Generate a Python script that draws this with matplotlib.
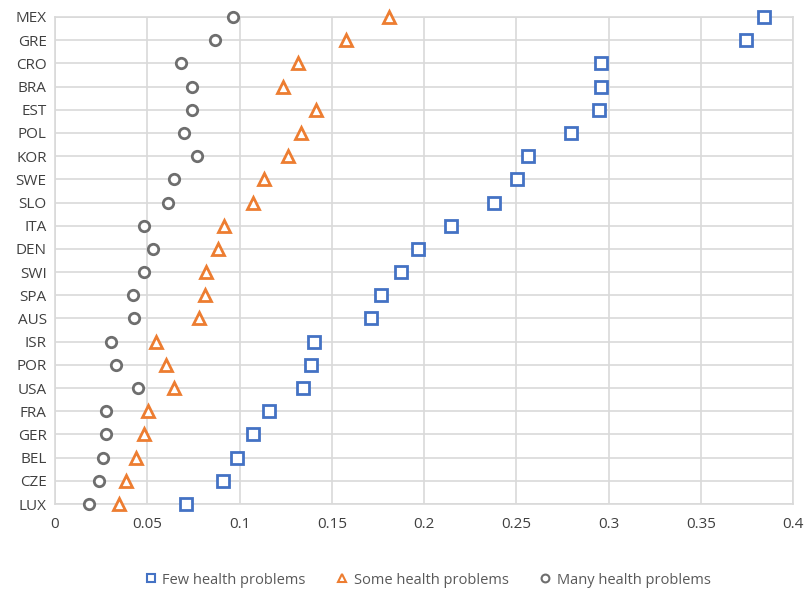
import numpy as np
import matplotlib
matplotlib.use("Agg")
import matplotlib.pyplot as plt

plt.rcParams['font.family'] = ['Open Sans', 'DejaVu Sans']

# countries, bottom to top
countries = ["LUX", "CZE", "BEL", "GER", "FRA", "USA", "POR", "ISR", "AUS", "SPA", "SWI",
             "DEN", "ITA", "SLO", "SWE", "KOR", "POL", "EST", "BRA", "CRO", "GRE", "MEX"]

few = [0.0711, 0.0909, 0.0989, 0.1075, 0.1162, 0.1342, 0.1388, 0.1406, 0.1713, 0.1767, 0.1877,
       0.1965, 0.2146, 0.2379, 0.2505, 0.2561, 0.2796, 0.2950, 0.2957, 0.2959, 0.3744, 0.3843]
some = [0.0349, 0.0386, 0.0438, 0.0485, 0.0503, 0.0647, 0.0602, 0.0548, 0.0783, 0.0812, 0.0819,
        0.0882, 0.0918, 0.1072, 0.1135, 0.1261, 0.1334, 0.1415, 0.1234, 0.1317, 0.1579, 0.1812]
many = [0.0185, 0.0239, 0.0259, 0.0277, 0.0275, 0.0449, 0.0331, 0.0306, 0.0429, 0.0422, 0.0485,
        0.0530, 0.0485, 0.0613, 0.0644, 0.0767, 0.0700, 0.0745, 0.0745, 0.0682, 0.0866, 0.0963]

series = [
    ("Few health problems", few, "s", "#4472C4", 8),
    ("Some health problems", some, "^", "#ED7D31", 8.5),
    ("Many health problems", many, "o", "#6E6E6E", 7.5),
]

fig = plt.figure(figsize=(8.07, 5.97), dpi=100)
ax = fig.add_axes([55 / 807, 1 - 504 / 597, (793 - 55) / 807, (504 - 17) / 597])

y = np.arange(len(countries))
for name, vals, mk, col, ms in series:
    ax.plot(vals, y, linestyle="none", marker=mk, markersize=ms, markerfacecolor="white",
            markeredgecolor=col, markeredgewidth=2, label=name, clip_on=False, zorder=3)

ax.set_xlim(0, 0.4)
ax.set_ylim(0, len(countries) - 1)
ax.set_xticks(np.arange(0, 0.41, 0.05))
ax.set_xticklabels(["0", "0.05", "0.1", "0.15", "0.2", "0.25", "0.3", "0.35", "0.4"])
ax.set_yticks(y)
ax.set_yticklabels(countries)
ax.grid(True, color="#D9D9D9", linewidth=1.2)
ax.set_axisbelow(True)
for s in ax.spines.values():
    s.set_color("#D9D9D9")
    s.set_linewidth(1.2)
ax.tick_params(length=0, labelsize=11, colors="#404040")
ax.tick_params(axis="x", pad=9)
ax.tick_params(axis="y", pad=6)

leg = fig.legend(loc="center", bbox_to_anchor=(427 / 807, 1 - 580 / 597), ncol=3,
                 frameon=False, fontsize=10.5, handlelength=1.0, handletextpad=0.3,
                 columnspacing=2.0, markerscale=0.75)
for h in leg.legend_handles:
    h.set_markeredgewidth(1.5)
for t in leg.get_texts():
    t.set_color("#595959")

fig.savefig("out.png", dpi=100)
